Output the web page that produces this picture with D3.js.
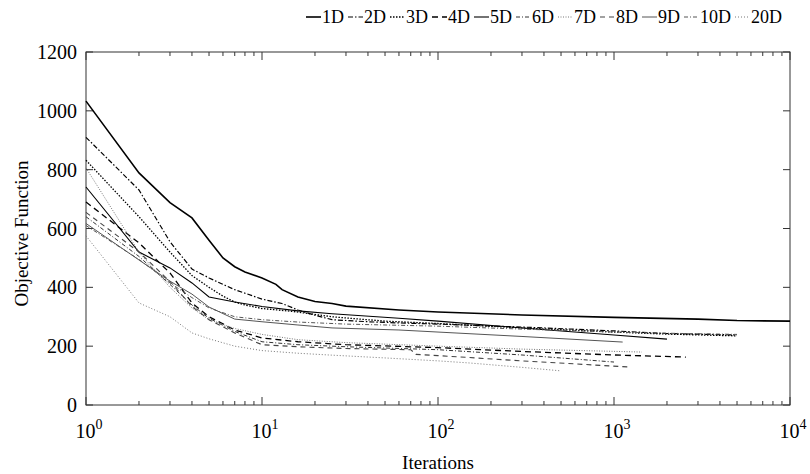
<!DOCTYPE html>
<html><head><meta charset="utf-8">
<script src="https://cdn.jsdelivr.net/npm/d3@7"></script>
<style>body{margin:0;background:#fff;} text{font-family:"Liberation Serif","Times New Roman",serif;fill:#000;}</style>
</head><body>
<svg id="chart" width="810" height="474"></svg>
<script>
const seriesNames = ["1D","2D","3D","4D","5D","6D","7D","8D","9D","10D","20D"];
const d1D = [[1,1033],[2,789],[3,688],[4,636],[5,560],[6,500],[7,470],[8,452],[10,432],[12,410],[13,392],[16,367],[20,352],[25,345],[30,336],[60,323],[100,316],[300,306],[1000,298],[3000,292],[5000,287],[10000,285]];
const d2D = [[1,910],[2,731],[3,555],[4,462],[5,432],[6,410],[7,392],[8,380],[10,360],[13,345],[16,323],[20,305],[25,290],[40,283],[60,279],[100,275],[300,265],[1000,252],[2000,243],[5000,238]];
const d3D = [[1,832],[2,640],[3,520],[4,440],[5,400],[6,370],[7,350],[8,340],[10,328],[15,318],[25,300],[50,285],[100,277],[300,262],[1000,248],[2000,241],[5000,235]];
const d4D = [[1,690],[2,551],[3,449],[4,347],[5,300],[7,255],[10,228],[16,215],[30,205],[100,195],[300,182],[1000,170],[2560,163]];
const d5D = [[1,741],[2,520],[3,466],[4,415],[5,367],[7,350],[10,335],[16,320],[25,310],[60,295],[100,285],[300,262],[1000,238],[2000,224]];
const d6D = [[1,640],[2,505],[3,410],[4,340],[5,295],[7,250],[10,215],[16,205],[30,198],[100,188],[300,170],[1000,146]];
const d7D = [[1,806],[2,520],[3,400],[4,330],[5,290],[7,260],[10,240],[16,222],[30,212],[100,200],[300,190],[1440,180]];
const d8D = [[1,655],[2,520],[3,420],[4,335],[5,290],[7,245],[10,205],[16,198],[30,192],[70,188],[75,172],[100,168],[300,150],[1230,129]];
const d9D = [[1,617],[2,493],[3,421],[4,377],[5,333],[7,292],[10,283],[16,272],[25,262],[60,255],[100,248],[300,233],[1120,214]];
const d10D = [[1,610],[2,495],[3,415],[4,365],[5,330],[7,300],[10,290],[16,282],[30,275],[100,268],[300,258],[1000,248],[2000,244],[5000,240]];
const d20D = [[1,575],[2,347],[3,300],[4,245],[5,225],[7,200],[10,185],[16,176],[24,170],[50,160],[100,150],[150,143],[300,128],[500,116]];
const seriesData = [d1D,d2D,d3D,d4D,d5D,d6D,d7D,d8D,d9D,d10D,d20D];
const yTicks = [0,200,400,600,800,1000,1200];
const xTickExps = [0,1,2,3,4];

const styles = [
  {c:"#000",w:1.6,da:null},
  {c:"#000",w:1.2,da:"5,2,1.5,2"},
  {c:"#000",w:1.3,da:"1.5,1.5"},
  {c:"#000",w:1.3,da:"6,4"},
  {c:"#000",w:1.1,da:null},
  {c:"#333",w:1,da:"4,2,1,2"},
  {c:"#777",w:1,da:"1,1.5"},
  {c:"#444",w:1.1,da:"5,4"},
  {c:"#555",w:1,da:null},
  {c:"#555",w:1,da:"4,2,1,2"},
  {c:"#777",w:1,da:"1,2"}
];

const svg = d3.select("#chart");
const L=86,R=790,T=52,B=405;
const x = d3.scaleLog().domain([1,1e4]).range([L,R]);
const y = d3.scaleLinear().domain([0,1200]).range([B,T]);

svg.append("rect").attr("x",L).attr("y",T).attr("width",R-L).attr("height",B-T)
  .attr("fill","none").attr("stroke","#333").attr("stroke-width",1);

const xt = [];
for(let e=0;e<4;e++){for(let m=1;m<10;m++){xt.push(m*Math.pow(10,e));}}
xt.push(1e4);
const g = svg.append("g");
xt.forEach(v=>{
  const major = Math.abs(Math.log10(v)-Math.round(Math.log10(v)))<1e-9;
  const len = major?8:4;
  const px = x(v);
  g.append("line").attr("x1",px).attr("x2",px).attr("y1",B).attr("y2",B-len).attr("stroke","#333");
  g.append("line").attr("x1",px).attr("x2",px).attr("y1",T).attr("y2",T+len).attr("stroke","#333");
});
yTicks.forEach(v=>{
  g.append("line").attr("x1",L).attr("x2",L+7).attr("y1",y(v)).attr("y2",y(v)).attr("stroke","#333");
  g.append("line").attr("x1",R).attr("x2",R-7).attr("y1",y(v)).attr("y2",y(v)).attr("stroke","#333");
  svg.append("text").attr("x",L-9).attr("y",y(v)+7).attr("text-anchor","end").attr("font-size",20).text(v);
});
xTickExps.forEach(e=>{
  const t = svg.append("text").attr("x",x(Math.pow(10,e))+3).attr("y",438).attr("text-anchor","middle").attr("font-size",20);
  t.append("tspan").text("10");
  t.append("tspan").attr("dy",-9).attr("font-size",14).text(e);
});

svg.append("text").attr("x",(L+R)/2).attr("y",469).attr("text-anchor","middle").attr("font-size",19).text("Iterations");
svg.append("text").attr("transform",`translate(28,${(T+B)/2+5}) rotate(-90)`).attr("text-anchor","middle").attr("font-size",19).text("Objective Function");

const line = d3.line().x(d=>x(d[0])).y(d=>y(d[1]));
seriesData.forEach((d,i)=>{
  const s=styles[i];
  svg.append("path").datum(d).attr("d",line).attr("fill","none").attr("stroke",s.c)
    .attr("stroke-width",s.w).attr("stroke-dasharray",s.da);
});

const lg = svg.append("g");
let cx = 0;
seriesNames.forEach((n,i)=>{
  const s=styles[i];
  const it = lg.append("g").attr("transform",`translate(${cx},0)`);
  it.append("line").attr("x1",0).attr("x2",15).attr("y1",0).attr("y2",0).attr("stroke",s.c).attr("stroke-width",s.w).attr("stroke-dasharray",s.da);
  const t = it.append("text").attr("x",16).attr("y",6).attr("font-size",18).text(n);
  const w = t.node().getComputedTextLength();
  cx += 16 + w + 4;
});
const total = cx-4;
lg.attr("transform",`translate(${(313+775)/2-total/2},17)`);
</script>
</body></html>
